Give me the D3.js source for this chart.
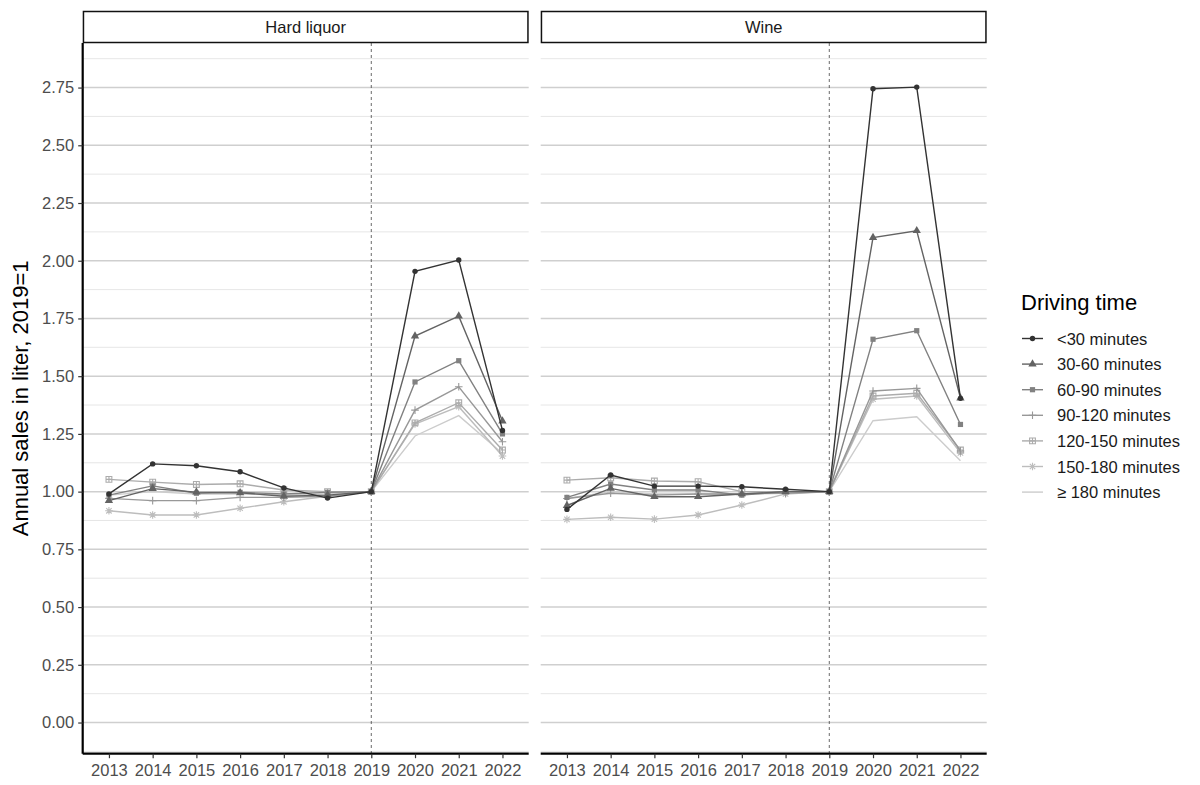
<!DOCTYPE html>
<html><head><meta charset="utf-8">
<script src="https://cdn.jsdelivr.net/npm/d3@7"></script>
<style>body{margin:0;background:#fff}svg{font-family:"Liberation Sans",Arial,sans-serif}</style>
</head><body><svg id="c" width="1200" height="785"></svg>
<script>
const years = ["2013","2014","2015","2016","2017","2018","2019","2020","2021","2022"];
const panels = ["Hard liquor","Wine"];
const groups = ["<30 minutes","30-60 minutes","60-90 minutes","90-120 minutes","120-150 minutes","150-180 minutes","≥ 180 minutes"];
const colors = ["#333333","#636363","#818181","#989898","#acacac","#bdbdbd","#cccccc"];
const shapes = ["circle","triangle","square","plus","squareplus","asterisk","none"];
const yTicks = [0,0.25,0.5,0.75,1,1.25,1.5,1.75,2,2.25,2.5,2.75];
const yTitle = "Annual sales in liter, 2019=1";
const legendTitle = "Driving time";

// Hard liquor values per group
const liquor_lt30   = [0.99,1.12,1.112,1.086,1.016,0.972,1,1.954,2.003,1.265];
const liquor_30_60  = [0.961,1.013,0.998,0.995,0.98,0.985,1,1.674,1.76,1.306];
const liquor_60_90  = [0.985,1.025,0.993,0.997,0.99,0.997,1,1.475,1.567,1.25];
const liquor_90_120 = [0.971,0.961,0.961,0.975,0.975,0.98,1,1.353,1.454,1.216];
const liquor_120_150= [1.053,1.041,1.031,1.034,1.007,1.0,1,1.298,1.385,1.18];
const liquor_150_180= [0.917,0.899,0.899,0.928,0.956,0.98,1,1.293,1.368,1.154];
const liquor_ge180  = [0.985,1.0,0.99,0.99,0.985,0.99,1,1.241,1.329,1.165];
// Wine values per group
const wine_lt30   = [0.923,1.072,1.024,1.024,1.021,1.01,1,2.745,2.752,1.404];
const wine_30_60  = [0.94,1.014,0.978,0.978,0.99,1.0,1,2.10,2.13,1.405];
const wine_60_90  = [0.975,1.033,1.007,1.007,0.985,1.0,1,1.66,1.697,1.291];
const wine_90_120 = [0.97,0.993,0.985,0.99,0.99,0.993,1,1.436,1.447,1.176];
const wine_120_150= [1.05,1.06,1.046,1.043,1.0,1.0,1,1.414,1.426,1.18];
const wine_150_180= [0.88,0.889,0.881,0.899,0.942,0.99,1,1.40,1.414,1.168];
const wine_ge180  = [0.97,1.0,0.99,0.99,0.99,1.0,1,1.307,1.324,1.134];

const data = {
  "Hard liquor":[liquor_lt30,liquor_30_60,liquor_60_90,liquor_90_120,liquor_120_150,liquor_150_180,liquor_ge180],
  "Wine":[wine_lt30,wine_30_60,wine_60_90,wine_90_120,wine_120_150,wine_150_180,wine_ge180]
};

const svg = d3.select("#c");
const panelX = [[82.7,528.7],[540.7,986.7]];
const pTop = 43, pBottom = 753.7;
const y = d3.scaleLinear().domain([-0.135,2.943]).range([pBottom, pTop]);
const FONT = "Liberation Sans, Arial, sans-serif";

function drawShape(g, shape, cx, cy, col){
  if(shape==="circle") g.append("circle").attr("cx",cx).attr("cy",cy).attr("r",2.7).attr("fill",col);
  else if(shape==="triangle") g.append("path").attr("d",d3.symbol(d3.symbolTriangle,30)()).attr("transform",`translate(${cx},${cy})`).attr("fill",col);
  else if(shape==="square") g.append("rect").attr("x",cx-2.6).attr("y",cy-2.6).attr("width",5.2).attr("height",5.2).attr("fill",col);
  else if(shape==="plus") g.append("path").attr("d",`M${cx-3.8},${cy}H${cx+3.8}M${cx},${cy-3.8}V${cy+3.8}`).attr("stroke",col).attr("stroke-width",1.1).attr("fill","none");
  else if(shape==="squareplus") g.append("path").attr("d",`M${cx-2.9},${cy-2.9}h5.8v5.8h-5.8zM${cx-2.9},${cy}H${cx+2.9}M${cx},${cy-2.9}V${cy+2.9}`).attr("stroke",col).attr("stroke-width",1.1).attr("fill","none");
  else if(shape==="asterisk") g.append("path").attr("d",`M${cx-3.8},${cy}H${cx+3.8}M${cx},${cy-3.8}V${cy+3.8}M${cx-2.7},${cy-2.7}L${cx+2.7},${cy+2.7}M${cx-2.7},${cy+2.7}L${cx+2.7},${cy-2.7}`).attr("stroke",col).attr("stroke-width",1.1).attr("fill","none");
}

panels.forEach((p,pi)=>{
  const [x0,x1] = panelX[pi];
  const x = d3.scalePoint().domain(years).range([x0,x1]).padding(0.6);
  const g = svg.append("g");
  yTicks.map(v=>v+0.125).concat([-0.125]).forEach(v=>{
    g.append("line").attr("x1",x0).attr("x2",x1).attr("y1",y(v)).attr("y2",y(v)).attr("stroke","#e0e0e0").attr("stroke-width",0.8);
  });
  yTicks.forEach(v=>{
    g.append("line").attr("x1",x0).attr("x2",x1).attr("y1",y(v)).attr("y2",y(v)).attr("stroke","#cfcfcf").attr("stroke-width",1.5);
  });
  g.append("line").attr("x1",x("2019")).attr("x2",x("2019")).attr("y1",pTop).attr("y2",pBottom).attr("stroke","#444").attr("stroke-width",0.8).attr("stroke-dasharray","3,3");
  for(let k=groups.length-1;k>=0;k--){
    const vals = data[p][k];
    const line = d3.line().x((d,i)=>x(years[i])).y(d=>y(d));
    g.append("path").attr("d",line(vals)).attr("fill","none").attr("stroke",colors[k]).attr("stroke-width",1.4);
    vals.forEach((v,i)=>drawShape(g,shapes[k],x(years[i]),y(v),colors[k]));
  }
  svg.append("rect").attr("x",x0+0.75).attr("y",11.5).attr("width",x1-x0-1.5).attr("height",31).attr("fill","#fff").attr("stroke","#111").attr("stroke-width",1.5);
  svg.append("text").attr("x",(x0+x1)/2).attr("y",33).attr("text-anchor","middle").attr("font-size",16.5).attr("fill","#1a1a1a").text(p);
  const xa = svg.append("g").attr("transform",`translate(0,${pBottom})`).call(d3.axisBottom(x).tickSize(4.5).tickPadding(6));
  xa.select(".domain").attr("stroke","#000").attr("stroke-width",2.2).attr("d",`M${x0},0H${x1}`);
  xa.selectAll(".tick line").attr("stroke","#333").attr("stroke-width",1.2);
  xa.selectAll(".tick text").attr("font-size",16.5).attr("fill","#4d4d4d").attr("font-family",FONT);
  if(pi===0){
    const ya = svg.append("g").attr("transform",`translate(${x0},0)`).call(d3.axisLeft(y).tickValues(yTicks).tickFormat(d3.format(".2f")).tickSize(4.5).tickPadding(4));
    ya.select(".domain").attr("stroke","#000").attr("stroke-width",2.2).attr("d",`M0,${pTop}V${pBottom}`);
    ya.selectAll(".tick line").attr("stroke","#333").attr("stroke-width",1.2);
    ya.selectAll(".tick text").attr("font-size",16.5).attr("fill","#4d4d4d").attr("font-family",FONT);
  }
});

svg.append("text").attr("transform",`translate(28,${(pTop+pBottom)/2}) rotate(-90)`).attr("text-anchor","middle").attr("font-size",22).attr("fill","#000").text(yTitle);

const lg = svg.append("g");
lg.append("text").attr("x",1021).attr("y",310).attr("font-size",22).attr("fill","#000").text(legendTitle);
groups.forEach((gname,k)=>{
  const cy = 338.5 + k*25.6;
  lg.append("line").attr("x1",1022).attr("x2",1043).attr("y1",cy).attr("y2",cy).attr("stroke",colors[k]).attr("stroke-width",1.4);
  drawShape(lg,shapes[k],1032.5,cy,colors[k]);
  lg.append("text").attr("x",1057).attr("y",cy+6).attr("font-size",16.5).attr("fill","#1a1a1a").text(gname);
});
</script></body></html>
